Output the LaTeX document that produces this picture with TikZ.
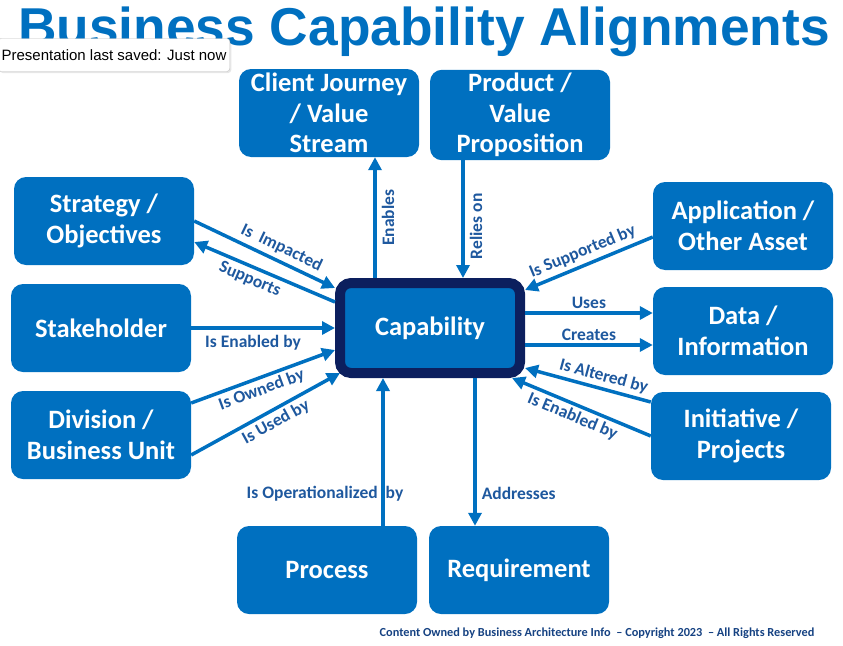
\documentclass[tikz,border=0pt]{standalone}
\usepackage{fontspec}
\setmainfont{Carlito}
\newfontfamily\titlefont{Liberation Sans}
\usetikzlibrary{arrows.meta, shadows}

\definecolor{boxblue}{RGB}{0,112,192}
\definecolor{capnavy}{RGB}{12,31,94}
\definecolor{labelblue}{RGB}{30,88,158}
\definecolor{footblue}{RGB}{22,66,130}

\tikzstyle{entity} = [rectangle, rounded corners=12pt, minimum width=180pt, minimum height=88pt, align=center, fill=boxblue, text=white, font=\fontsize{26.5}{30.5}\selectfont\bfseries]
\tikzstyle{core} = [entity, minimum height=90pt, draw=capnavy, line width=10pt, rounded corners=11pt]
\tikzstyle{arrow} = [line width=3.5pt, draw=boxblue, -{Triangle[length=13pt,width=13pt]}]
\tikzstyle{rel} = [font=\fontsize{17.5}{19}\selectfont\bfseries, text=labelblue, inner sep=1pt]

\begin{document}
\begin{tikzpicture}[x=1pt, y=-1pt]
\useasboundingbox (0,0) rectangle (843,645);

% Title
\node (title) at (424,45) [anchor=base, text=boxblue, font=\titlefont\fontsize{53.3}{60}\selectfont\bfseries] {Business Capability Alignments};
\node (saved) at (114,55) [rectangle, rounded corners=3pt, draw=gray!50, fill=white, minimum width=228pt, minimum height=33pt, font=\titlefont\fontsize{15}{17}\selectfont, drop shadow={opacity=0.2, shadow xshift=1.5pt, shadow yshift=-1.5pt}] {Presentation last saved: Just now};

% Nodes
\node (journey) at (329,113) [entity] {Client Journey\\/ Value\\Stream};
\node (product) at (520,115) [entity] {Product /\\Value\\Proposition};
\node (strategy) at (104,221) [entity] {Strategy /\\Objectives};
\node (stakeholder) at (101,328) [entity] {Stakeholder};
\node (division) at (101,435) [entity] {Division /\\Business Unit};
\node (application) at (743,226) [entity] {Application /\\Other Asset};
\node (data) at (743,331) [entity] {Data /\\Information};
\node (initiative) at (741,436) [entity] {Initiative /\\Projects};
\node (process) at (327,570) [entity] {Process};
\node (requirement) at (519,570) [entity] {Requirement};
\node (capability) at (430,328) [core] {Capability};

% Arrows
\draw [arrow] (strategy.east) -- ([yshift=-10pt]capability.north west) node[rel, pos=0.58, sloped, above=3pt] {Is\ \ Impacted};
\draw [arrow] ([yshift=-24pt]capability.north west) -- ([yshift=-21pt]strategy.east) node[rel, pos=0.57, sloped, below=3pt] {Supports};
\draw [arrow] (stakeholder.east) -- (capability.west) node[rel, pos=0.43, below=4pt] {Is Enabled by};
\draw [arrow] ([yshift=32pt]division.east) -- ([yshift=-22pt]capability.west) node[rel, pos=0.46, sloped, below=2pt] {Is Owned by};
\draw [arrow] ([yshift=-20pt]division.east) -- ([shift={(5pt,5pt)}]capability.south west) node[rel, pos=0.53, sloped, below=2pt] {Is Used by};

\draw [arrow] ([xshift=-55pt]capability.north) -- ([xshift=-55pt]capability.north |- journey.south) node[rel, pos=0.5, sloped, below=4pt] {Enables};
\draw [arrow] ([xshift=-57pt]product.south) -- ([xshift=-57pt]product.south |- capability.north) node[rel, pos=0.56, rotate=90, below=4pt] {Relies on};

\draw [arrow] ([xshift=56pt]process.north) -- ([xshift=56pt]process.north |- capability.south) node[rel, pos=0.22, xshift=-58pt] {Is Operationalized\ \ by};
\draw [arrow] ([xshift=45pt]capability.south) -- ([xshift=45pt]capability.south |- requirement.north) node[rel, pos=0.78, right=4pt] {Addresses};

\draw [arrow] ([yshift=-11pt]application.west) -- ([yshift=-12pt]capability.north east) node[rel, pos=0.51, sloped, above=3pt] {Is Supported by};
\draw [arrow] ([yshift=15pt]capability.east) -- ([yshift=15pt]capability.east -| data.west) node[rel, midway, above=2pt] {Uses};
\draw [arrow] ([yshift=-17pt]capability.east) -- ([yshift=-17pt]capability.east -| data.west) node[rel, midway, above=2pt] {Creates};
\draw [arrow] ([yshift=34pt]initiative.west) -- ([yshift=10pt]capability.south east) node[rel, pos=0.4, sloped, above=2pt] {Is Altered by};
\draw [arrow] (initiative.west) -- ([xshift=-13pt]capability.south east) node[rel, pos=0.53, sloped, below=2pt] {Is Enabled by};

% Footer
\node (footer) at (597,633) [font=\fontsize{12.3}{14}\selectfont\bfseries, text=footblue] {Content Owned by Business Architecture Info~ – Copyright 2023~ – All Rights Reserved};

\end{tikzpicture}
\end{document}
